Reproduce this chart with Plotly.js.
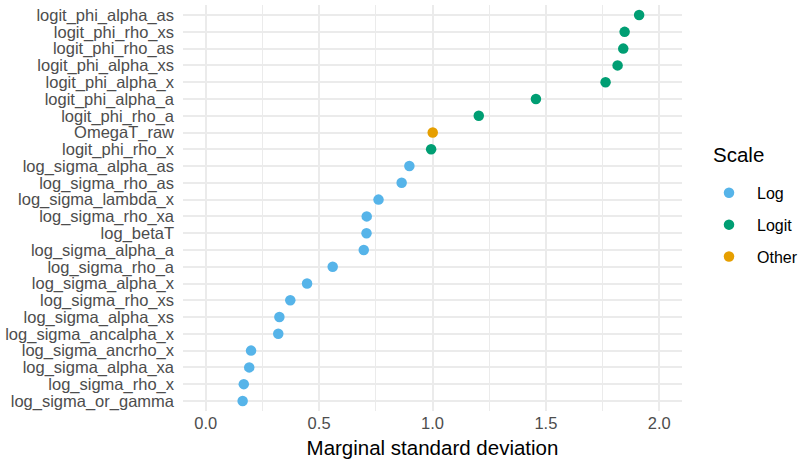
<!DOCTYPE html>
<html>
<head>
<meta charset="utf-8">
<script src="https://cdn.plot.ly/plotly-3.0.1.min.js"></script>
<style>html,body{margin:0;padding:0;background:#fff;}#chart{width:798px;height:459px;}</style>
</head>
<body>
<div id="chart"></div>
<script>
// Parameters from top to bottom as shown in the chart
const params = [
  "logit_phi_alpha_as","logit_phi_rho_xs","logit_phi_rho_as","logit_phi_alpha_xs",
  "logit_phi_alpha_x","logit_phi_alpha_a","logit_phi_rho_a","OmegaT_raw",
  "logit_phi_rho_x","log_sigma_alpha_as","log_sigma_rho_as","log_sigma_lambda_x",
  "log_sigma_rho_xa","log_betaT","log_sigma_alpha_a","log_sigma_rho_a",
  "log_sigma_alpha_x","log_sigma_rho_xs","log_sigma_alpha_xs","log_sigma_ancalpha_x",
  "log_sigma_ancrho_x","log_sigma_alpha_xa","log_sigma_rho_x","log_sigma_or_gamma"
];
const sdValues = [
  1.911, 1.847, 1.841, 1.816,
  1.763, 1.456, 1.204, 1.001,
  0.994, 0.898, 0.864, 0.762,
  0.710, 0.709, 0.697, 0.560,
  0.447, 0.373, 0.325, 0.320,
  0.200, 0.192, 0.168, 0.163
];
const scaleGroup = [
  "Logit","Logit","Logit","Logit",
  "Logit","Logit","Logit","Other",
  "Logit","Log","Log","Log",
  "Log","Log","Log","Log",
  "Log","Log","Log","Log",
  "Log","Log","Log","Log"
];
const groups = ["Log","Logit","Other"];
const groupColors = {"Log":"#56B4E9","Logit":"#009E73","Other":"#E69F00"};
const xTickVals = [0, 0.5, 1.0, 1.5, 2.0];
const xTickText = ["0.0","0.5","1.0","1.5","2.0"];

const traces = groups.map(g => {
  const xs = [], ys = [];
  params.forEach((p, i) => { if (scaleGroup[i] === g) { xs.push(sdValues[i]); ys.push(p); } });
  return {
    type: "scatter", mode: "markers", name: g, legendgroup: g,
    x: xs, y: ys,
    marker: {color: groupColors[g], size: 10.5},
    hoverinfo: "x+y"
  };
});

const font = "Liberation Sans, Arial, Helvetica, sans-serif";
const layout = {
  width: 798, height: 459,
  margin: {l: 183, r: 116, t: 5, b: 48, autoexpand: false},
  paper_bgcolor: "#fff", plot_bgcolor: "#fff",
  font: {family: font, color: "#4D4D4D", size: 16.5},
  showlegend: true,
  xaxis: {
    range: [-0.1, 2.1],
    tickvals: xTickVals, ticktext: xTickText,
    showgrid: true, gridcolor: "#EBEBEB", gridwidth: 2,
    minor: {dtick: 0.25, showgrid: true, gridcolor: "#EBEBEB", gridwidth: 1},
    zeroline: false, showline: false, ticks: "",
    tickfont: {size: 16.5, color: "#4D4D4D"},
    automargin: false,
    title: {text: "Marginal standard deviation", font: {size: 20.5, color: "#000"}, standoff: 14}
  },
  yaxis: {
    type: "category",
    categoryorder: "array", categoryarray: params.slice().reverse(),
    tickmode: "array", tickvals: params, ticktext: params,
    range: [-0.6, 23.6],
    showgrid: true, gridcolor: "#EBEBEB", gridwidth: 2,
    zeroline: false, showline: false, ticks: "",
    tickfont: {size: 16.5, color: "#4D4D4D"},
    automargin: false,
    ticklabelstandoff: 8
  },
  legend: {
    x: (701 - 183) / 499, xanchor: "left", y: 0.579, yanchor: "top",
    font: {size: 16, color: "#000"},
    tracegroupgap: 8,
    itemwidth: 46,
    bgcolor: "rgba(0,0,0,0)"
  },
  annotations: [{
    text: "Scale", xref: "paper", yref: "paper",
    x: (711 - 183) / 499, xanchor: "left",
    y: 1 - (154 - 5) / 406, yanchor: "middle",
    showarrow: false, font: {size: 20.5, color: "#000"}
  }]
};

Plotly.newPlot("chart", traces, layout, {staticPlot: true, displayModeBar: false});
</script>
</body>
</html>
